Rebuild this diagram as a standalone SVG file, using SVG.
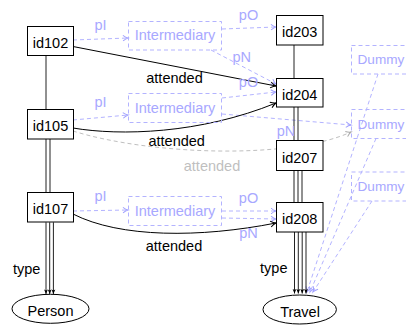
<svg xmlns="http://www.w3.org/2000/svg" width="406" height="325" viewBox="0 0 406 325">
<style>
text{font-family:"Liberation Sans",Arial,sans-serif;font-size:14.5px;text-anchor:middle}
.blk{fill:#000}
.blu{fill:#a8a8ff}
.gry{fill:#bfbfbf}
.dum{font-size:13.6px;text-anchor:start}
.box{fill:#fff;stroke:#000;stroke-width:1}
.dbox{fill:none;stroke:#b3b3ff;stroke-width:1;stroke-dasharray:4 3}
.bd{fill:none;stroke:#b3b3ff;stroke-width:1;stroke-dasharray:4 3}
.gd{fill:none;stroke:#bfbfbf;stroke-width:1;stroke-dasharray:4 3}
.sl{fill:none;stroke:#000;stroke-width:1}
.vl{fill:none;stroke:#222;stroke-width:1}
</style>
<defs>
<marker id="ab" viewBox="-7 -4 8 8" refX="0" refY="0" markerWidth="8" markerHeight="8" orient="auto" markerUnits="userSpaceOnUse" overflow="visible"><path d="M-5.5,-3 Q-2.5,-0.6 0,0 Q-2.5,0.6 -5.5,3" fill="none" stroke="#000" stroke-width="1"/></marker>
<marker id="abl" viewBox="-7 -4 8 8" refX="0" refY="0" markerWidth="8" markerHeight="8" orient="auto" markerUnits="userSpaceOnUse" overflow="visible"><path d="M-5,-2.8 Q-2.3,-0.6 0,0 Q-2.3,0.6 -5,2.8" fill="none" stroke="#a0a0ff" stroke-width="1"/></marker>
<marker id="agr" viewBox="-7 -4 8 8" refX="0" refY="0" markerWidth="8" markerHeight="8" orient="auto" markerUnits="userSpaceOnUse" overflow="visible"><path d="M-5,-2.8 Q-2.3,-0.6 0,0 Q-2.3,0.6 -5,2.8" fill="none" stroke="#aaaaaa" stroke-width="1"/></marker>
<marker id="at" viewBox="-5 -3 6 6" refX="0" refY="0" markerWidth="6" markerHeight="6" orient="auto" markerUnits="userSpaceOnUse" overflow="visible"><path d="M0,0 L-4.5,-1.9 L-3.6,0 L-4.5,1.9 Z" fill="#000"/></marker>
</defs>

<g id="connectors">
  <path class="bd" d="M73,40 L128,38" marker-end="url(#abl)"/>
  <path class="bd" d="M222,29 L276,27" marker-end="url(#abl)"/>
  <path class="bd" d="M211,50 L276,84" marker-end="url(#abl)"/>
  <path class="bd" d="M73,120 L128,115" marker-end="url(#abl)"/>
  <path class="bd" d="M222,98 L276,92" marker-end="url(#abl)"/>
  <path class="bd" d="M222,114 L351,125" marker-end="url(#abl)"/>
  <path class="bd" d="M73,211 L128,210" marker-end="url(#abl)"/>
  <path class="bd" d="M222,211 L276,211" marker-end="url(#abl)"/>
  <path class="bd" d="M222,218 L276,219" marker-end="url(#abl)"/>
  <path class="bd" d="M378,74 L307,292" marker-end="url(#abl)"/>
  <path class="bd" d="M376,138.5 L310,292" marker-end="url(#abl)"/>
  <path class="bd" d="M372,201 L313,292" marker-end="url(#abl)"/>
  <path class="gd" d="M73,131 C150,155 290,160 351,132" marker-end="url(#agr)"/>
  <path class="sl" d="M73,46.5 L276,86" marker-end="url(#ab)"/>
  <path class="sl" d="M73,128 C120,136 200,134 276,103" marker-end="url(#ab)"/>
  <path class="sl" d="M73,214 C120,238 200,238 276,223" marker-end="url(#ab)"/>
  <path class="vl" d="M46,55 V109.3"/>
  <path class="vl" d="M46,139 V192.3 M50,139 V192.3"/>
  <path class="vl" d="M46,222.3 V294" marker-end="url(#at)"/>
  <path class="vl" d="M49.7,222.3 V294" marker-end="url(#at)"/>
  <path class="vl" d="M53.4,222.3 V294" marker-end="url(#at)"/>
  <path class="vl" d="M294,45 V78.3"/>
  <path class="vl" d="M294,107 V140.7 M298,107 V140.7"/>
  <path class="vl" d="M294,170.7 V202.7 M298,170.7 V202.7 M302,170.7 V202.7"/>
  <path class="vl" d="M294.5,232 V293.5" marker-end="url(#at)"/>
  <path class="vl" d="M298.3,232 V293.5" marker-end="url(#at)"/>
  <path class="vl" d="M302.2,232 V293.5" marker-end="url(#at)"/>
  <path class="vl" d="M306,232 V293.5" marker-end="url(#at)"/>
  <text class="blu" x="100.5" y="30">pI</text>
  <text class="blu" x="248.5" y="20">pO</text>
  <text class="blu" x="241.7" y="62">pN</text>
  <text class="blu" x="248.5" y="87">pO</text>
  <text class="blu" x="100.5" y="107">pI</text>
  <text class="blu" x="286" y="136">pN</text>
  <text class="blu" x="100.5" y="200.5">pI</text>
  <text class="blu" x="248.5" y="203">pO</text>
  <text class="blu" x="248.5" y="238">pN</text>
  <text class="blk" x="174.5" y="83">attended</text>
  <text class="blk" x="176.7" y="146">attended</text>
  <text class="gry" x="212" y="170.5">attended</text>
  <text class="blk" x="174" y="251">attended</text>
  <text class="blk" x="26.7" y="274">type</text>
  <text class="blk" x="273.8" y="272.5">type</text>
</g>

<g id="id102"><rect class="box" x="27.5" y="26.5" width="46" height="29"/><text x="50.5" y="47.5">id102</text></g>
<g id="id105"><rect class="box" x="27.5" y="109.5" width="46" height="29.5"/><text x="50.5" y="131">id105</text></g>
<g id="id107"><rect class="box" x="27.5" y="192.5" width="46" height="29.5"/><text x="50.5" y="214.3">id107</text></g>
<g id="id203"><rect class="box" x="276.5" y="15.5" width="46.5" height="29.5"/><text x="299.7" y="37.3">id203</text></g>
<g id="id204"><rect class="box" x="276.5" y="78.5" width="46.5" height="28.5"/><text x="299.7" y="99.6">id204</text></g>
<g id="id207"><rect class="box" x="276.5" y="140.5" width="46.5" height="30"/><text x="299.7" y="162.5">id207</text></g>
<g id="id208"><rect class="box" x="276.5" y="202.5" width="46.5" height="29.5"/><text x="299.7" y="224.3">id208</text></g>

<g id="int1"><rect class="dbox" x="128.5" y="21.5" width="93" height="28.5"/><text class="blu" x="175" y="40.3">Intermediary</text></g>
<g id="int2"><rect class="dbox" x="128.5" y="93.5" width="93" height="29"/><text class="blu" x="175" y="112.6">Intermediary</text></g>
<g id="int3"><rect class="dbox" x="128.5" y="196.5" width="93" height="29"/><text class="blu" x="175" y="215.8">Intermediary</text></g>

<g id="dummy1"><rect class="dbox" x="351.5" y="45.5" width="62" height="28.5"/><text class="blu dum" x="357.5" y="64.3">Dummy</text></g>
<g id="dummy2"><rect class="dbox" x="351.5" y="109.5" width="62" height="29"/><text class="blu dum" x="357.5" y="128.6">Dummy</text></g>
<g id="dummy3"><rect class="dbox" x="351.5" y="172" width="62" height="29"/><text class="blu dum" x="357.5" y="191.2">Dummy</text></g>

<g id="person"><ellipse cx="50.5" cy="308.8" rx="38.5" ry="14.5" fill="#fff" stroke="#000" stroke-width="1"/><text x="50.5" y="316.3">Person</text></g>
<g id="travel"><ellipse cx="299.7" cy="309.5" rx="36.7" ry="14.5" fill="#fff" stroke="#000" stroke-width="1"/><text x="300" y="316.5">Travel</text></g>
</svg>
